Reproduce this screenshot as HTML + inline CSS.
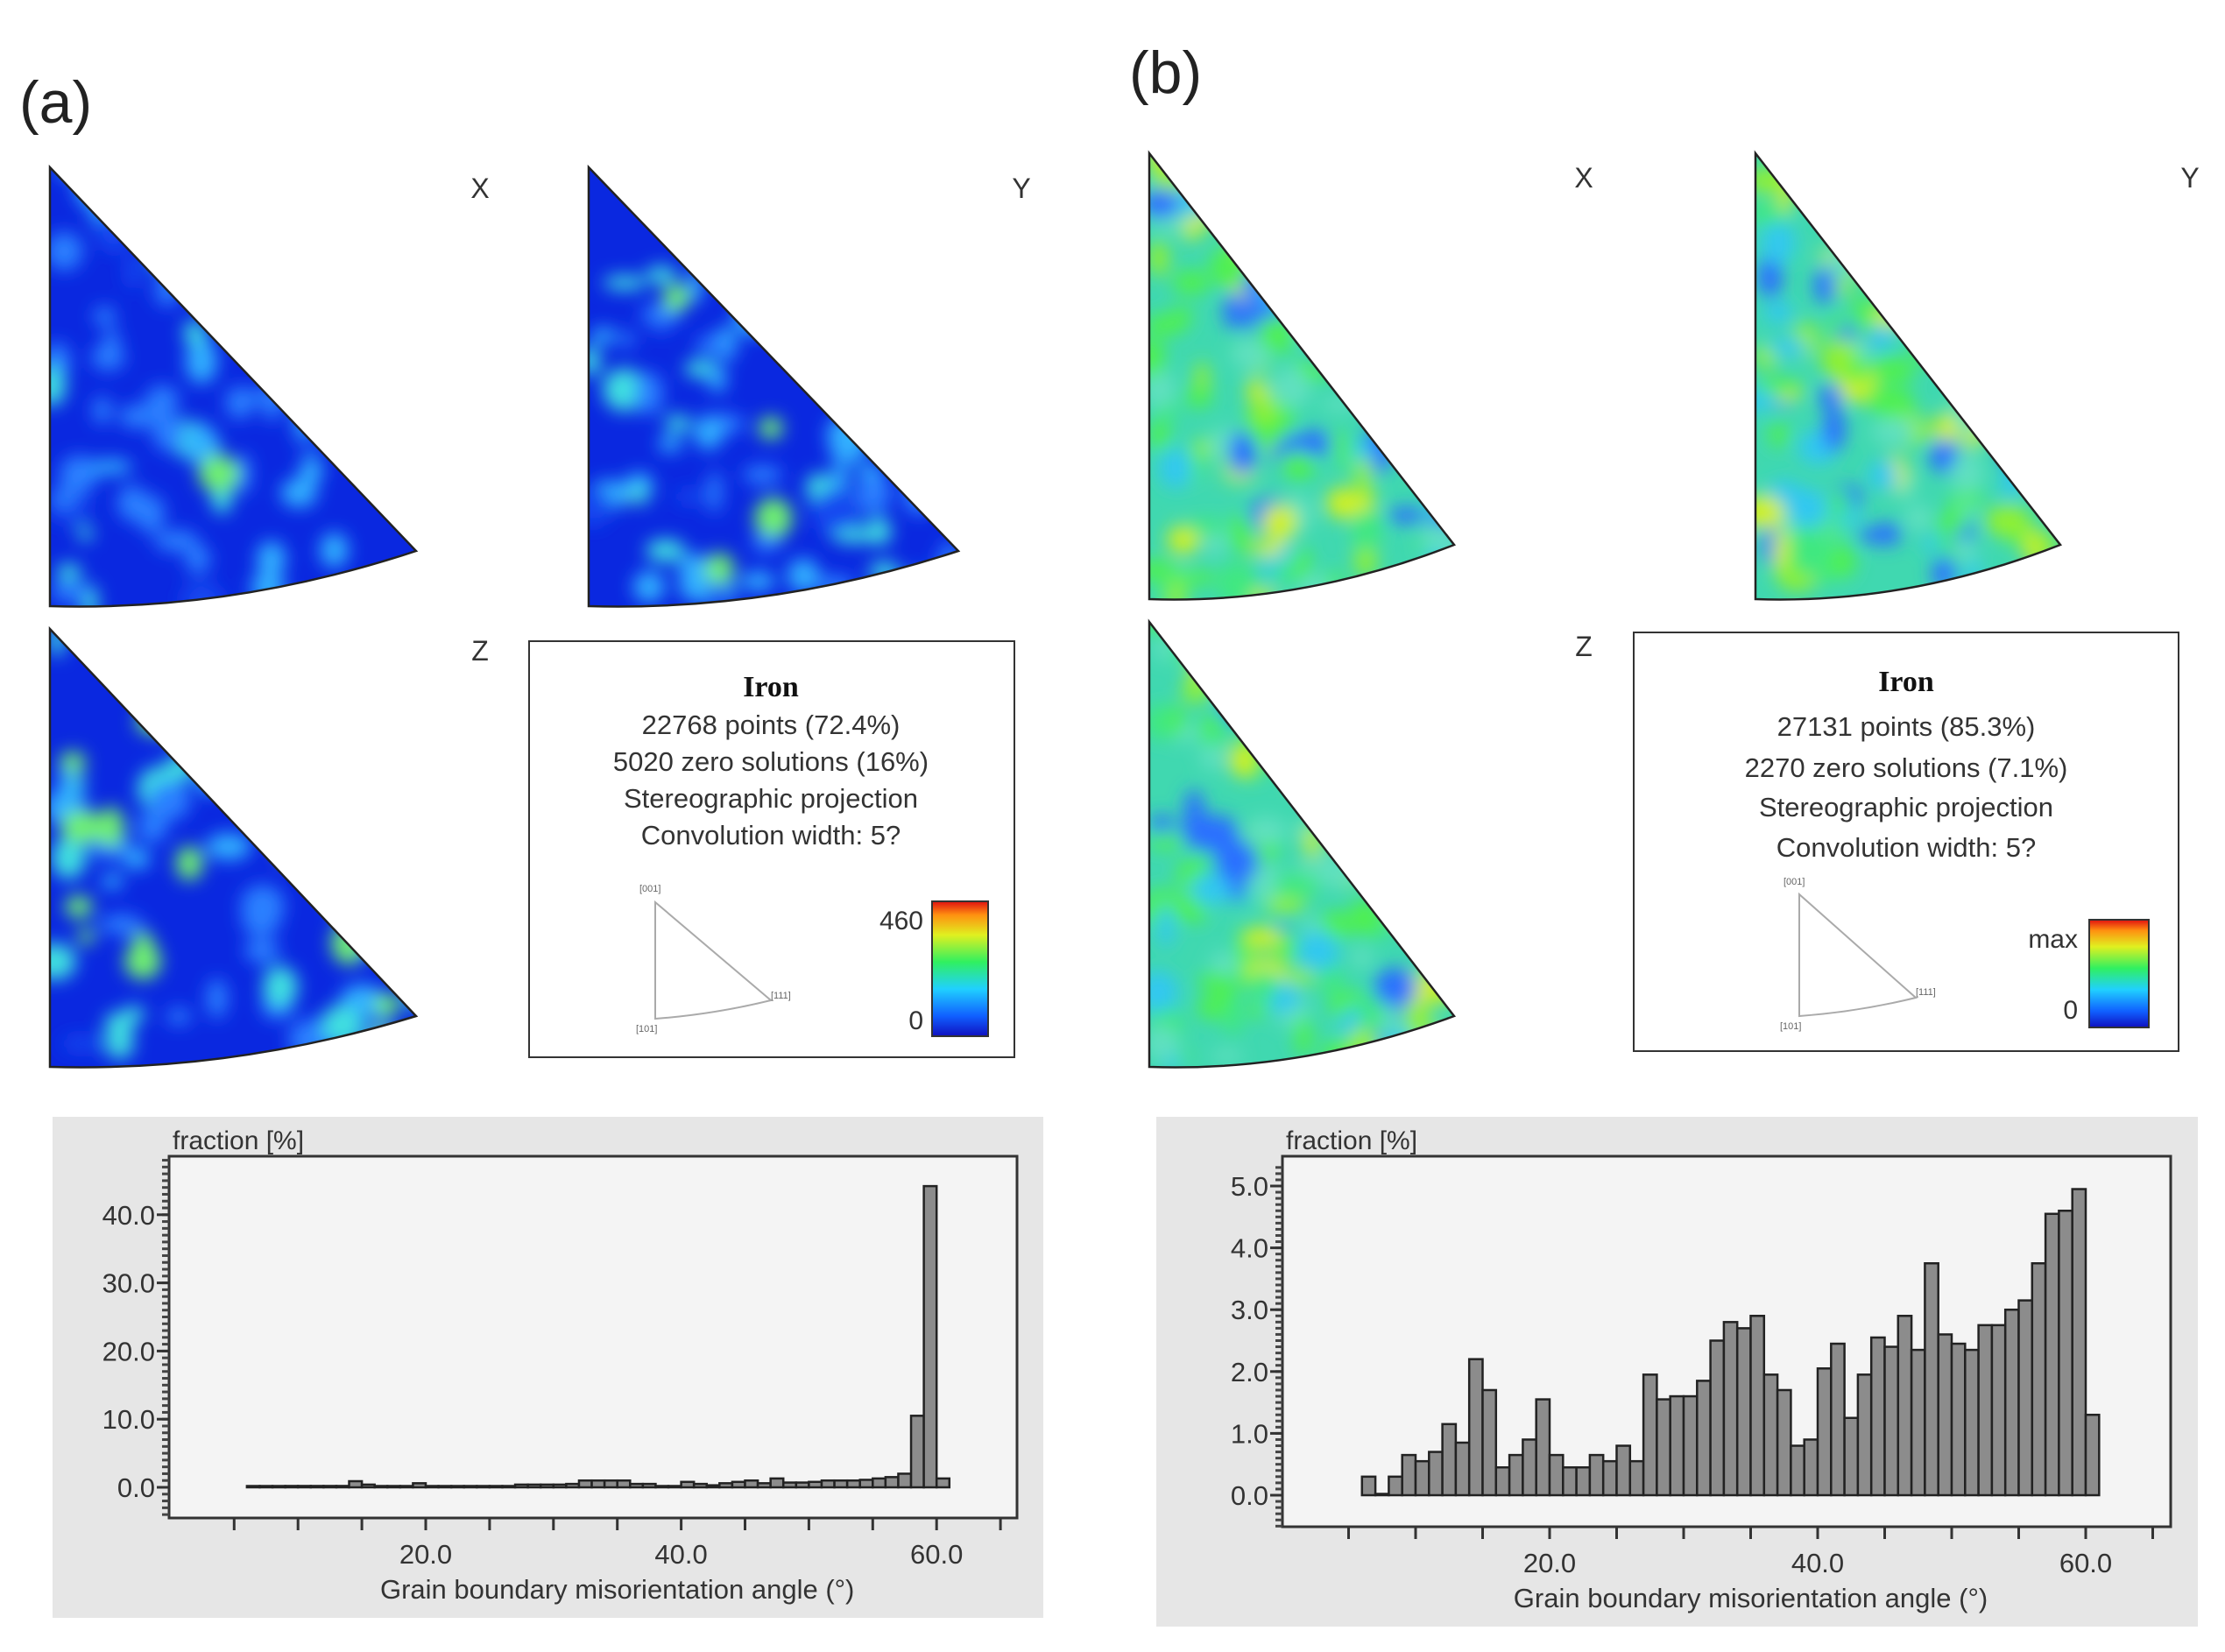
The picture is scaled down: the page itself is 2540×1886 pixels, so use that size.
<!DOCTYPE html>
<html><head><meta charset="utf-8"><style>
html,body{margin:0;padding:0;background:#fff;}
svg{display:block;font-family:"Liberation Sans","DejaVu Sans",sans-serif;}
</style></head><body>
<svg id="root" width="2540" height="1886" viewBox="0 0 2540 1886" xmlns="http://www.w3.org/2000/svg">
<defs>
<filter id="blur" x="-20%" y="-20%" width="140%" height="140%"><feGaussianBlur stdDeviation="10"/></filter>
<linearGradient id="cbar" x1="0" y1="1" x2="0" y2="0">
<stop offset="0" stop-color="#1010c0"/><stop offset="0.15" stop-color="#1060ff"/><stop offset="0.35" stop-color="#20d0ff"/><stop offset="0.55" stop-color="#30f060"/><stop offset="0.75" stop-color="#e0f020"/><stop offset="0.9" stop-color="#ff9010"/><stop offset="1" stop-color="#e01010"/>
</linearGradient>
</defs>
<text x="22" y="140" font-size="68" fill="#222">(a)</text>
<text x="1289" y="106" font-size="68" fill="#222">(b)</text>
<g id="maps"></g>
<g>
<rect x="604" y="732" width="554" height="475" fill="#fff" stroke="#333" stroke-width="2"/>
<text x="880" y="795" font-size="34" font-weight="bold" text-anchor="middle" font-family="Liberation Serif,serif" fill="#111">Iron</text>
<text x="880" y="838" font-size="31" text-anchor="middle" fill="#333">22768 points  (72.4%)</text>
<text x="880" y="880" font-size="31" text-anchor="middle" fill="#333">5020 zero solutions (16%)</text>
<text x="880" y="922" font-size="31" text-anchor="middle" fill="#333">Stereographic projection</text>
<text x="880" y="964" font-size="31" text-anchor="middle" fill="#333">Convolution width: 5?</text>
<path d="M748 1030 L748 1163 Q815 1158 880 1142 Z" fill="none" stroke="#aaa" stroke-width="2"/>
<text x="730" y="1018" font-size="11" fill="#666">[001]</text><text x="726" y="1178" font-size="11" fill="#666">[101]</text><text x="880" y="1140" font-size="11" fill="#666">[111]</text>
<rect x="1064" y="1029" width="64" height="154" fill="url(#cbar)" stroke="#333" stroke-width="2"/>
<text x="1054" y="1061" font-size="30" text-anchor="end" fill="#333">460</text>
<text x="1054" y="1175" font-size="30" text-anchor="end" fill="#333">0</text>
</g>
<g>
<rect x="1865" y="722" width="622" height="478" fill="#fff" stroke="#333" stroke-width="2"/>
<text x="2176" y="789" font-size="34" font-weight="bold" text-anchor="middle" font-family="Liberation Serif,serif" fill="#111">Iron</text>
<text x="2176" y="840" font-size="31" text-anchor="middle" fill="#333">27131 points  (85.3%)</text>
<text x="2176" y="887" font-size="31" text-anchor="middle" fill="#333">2270 zero solutions (7.1%)</text>
<text x="2176" y="932" font-size="31" text-anchor="middle" fill="#333">Stereographic projection</text>
<text x="2176" y="978" font-size="31" text-anchor="middle" fill="#333">Convolution width: 5?</text>
<path d="M2054 1021 L2054 1160 Q2122 1155 2187 1139 Z" fill="none" stroke="#aaa" stroke-width="2"/>
<text x="2036" y="1010" font-size="11" fill="#666">[001]</text><text x="2032" y="1175" font-size="11" fill="#666">[101]</text><text x="2187" y="1136" font-size="11" fill="#666">[111]</text>
<rect x="2385" y="1050" width="68" height="123" fill="url(#cbar)" stroke="#333" stroke-width="2"/>
<text x="2372" y="1082" font-size="30" text-anchor="end" fill="#333">max</text>
<text x="2372" y="1163" font-size="30" text-anchor="end" fill="#333">0</text>
</g>
<g id="histA"></g>
<g id="histB"></g>
</svg>
<script>
// Histogram data (a)
const anglesA = [6,7,8,9,10,11,12,13,14,15,16,17,18,19,20,21,22,23,24,25,26,27,28,29,30,31,32,33,34,35,36,37,38,39,40,41,42,43,44,45,46,47,48,49,50,51,52,53,54,55,56,57,58,59,60];
const fractionA = [0.1,0.1,0.1,0.2,0.2,0.2,0.2,0.2,0.9,0.4,0.1,0.1,0.1,0.6,0.1,0,0,0.1,0.1,0.1,0.1,0.4,0.4,0.4,0.4,0.5,1.0,1.0,1.0,1.0,0.5,0.5,0.1,0.1,0.8,0.5,0.3,0.6,0.8,1.0,0.6,1.3,0.7,0.7,0.8,1.0,1.0,1.0,1.1,1.3,1.5,2.0,10.5,44.2,1.3];
const yTicksA = [0,10,20,30,40];
const yLabelsA = ["0.0","10.0","20.0","30.0","40.0"];
// Histogram data (b)
const anglesB = [6,7,8,9,10,11,12,13,14,15,16,17,18,19,20,21,22,23,24,25,26,27,28,29,30,31,32,33,34,35,36,37,38,39,40,41,42,43,44,45,46,47,48,49,50,51,52,53,54,55,56,57,58,59,60];
const fractionB = [0.3,0,0.3,0.65,0.55,0.7,1.15,0.85,2.2,1.7,0.45,0.65,0.9,1.55,0.65,0.45,0.45,0.65,0.55,0.8,0.55,1.95,1.55,1.6,1.6,1.85,2.5,2.8,2.7,2.9,1.95,1.7,0.8,0.9,2.05,2.45,1.25,1.95,2.55,2.4,2.9,2.35,3.75,2.6,2.45,2.35,2.75,2.75,3.0,3.15,3.75,4.55,4.6,4.95,1.3];
const yTicksB = [0,1,2,3,4,5];
const yLabelsB = ["0.0","1.0","2.0","3.0","4.0","5.0"];
const xTicks = [20,40,60];
const xLabels = ["20.0","40.0","60.0"];

const NS="http://www.w3.org/2000/svg";
function mk(tag,attrs,parent){const e=document.createElementNS(NS,tag);for(const k in attrs)e.setAttribute(k,attrs[k]);if(parent)parent.appendChild(e);return e;}

function histogram(g,cfg,angles,vals,yT,yL){
  const X=v=>cfg.x20+(v-20)*cfg.px;
  const Y=v=>cfg.y0-v*cfg.py;
  const box=mk('rect',{x:cfg.bx,y:cfg.by,width:cfg.bw,height:cfg.bh,fill:'#e6e6e6'},g);
  
  
  const fr=mk('rect',{x:cfg.fx,y:cfg.fy,width:cfg.fw,height:cfg.fh,fill:'#f4f4f4',stroke:'#333','stroke-width':3},g);
  
  
  const yt=mk('text',{x:cfg.fx+4,y:cfg.fy-8,'font-size':30,fill:'#333'},g);yt.textContent='fraction [%]';
  
  
  const step=cfg.minor;
  for(let v=cfg.ymin;v<=cfg.ymax+1e-9;v+=step){
    mk('line',{x1:cfg.fx-8,x2:cfg.fx,y1:Y(v),y2:Y(v),stroke:'#444','stroke-width':3},g);
  }
  yT.forEach((v,i)=>{
    mk('line',{x1:cfg.fx-14,x2:cfg.fx,y1:Y(v),y2:Y(v),stroke:'#333','stroke-width':3},g);
    const t=mk('text',{x:cfg.fx-16,y:Y(v)+11,'font-size':31,'text-anchor':'end',fill:'#333'},g);t.textContent=yL[i];
    
    
  });
  for(let v=5;v<=65;v+=5){
    mk('line',{x1:X(v),x2:X(v),y1:cfg.fy+cfg.fh,y2:cfg.fy+cfg.fh+14,stroke:'#333','stroke-width':3},g);
  }
  xTicks.forEach((v,i)=>{
    const t=mk('text',{x:X(v),y:cfg.fy+cfg.fh+52,'font-size':31,'text-anchor':'middle',fill:'#333'},g);t.textContent=xLabels[i];
    
    
  });
  const xt=mk('text',{x:(X(5)+X(65))/2,y:cfg.fy+cfg.fh+92,'font-size':31,'text-anchor':'middle',fill:'#333'},g);xt.textContent='Grain boundary misorientation angle (°)';
  
  
  angles.forEach((a,i)=>{
    const h=Math.max(Y(0)-Y(vals[i]),1.5);
    const r=mk('rect',{x:X(a),y:Y(0)-h,width:X(a+1)-X(a),height:h,fill:'#8c8c8c',stroke:'#222','stroke-width':2.5},g);
    
    
  });
}
histogram(document.getElementById('histA'),{bx:60,by:1275,bw:1131,bh:572,fx:193,fy:1320,fw:968,fh:413,x20:486,px:14.58,y0:1698,py:7.78,ymin:-4,ymax:48,minor:1},anglesA,fractionA,yTicksA,yLabelsA);
histogram(document.getElementById('histB'),{bx:1320,by:1275,bw:1189,bh:582,fx:1464,fy:1320,fw:1014,fh:423,x20:1769,px:15.3,y0:1707,py:70.6,ymin:-0.5,ymax:5.3,minor:0.1},anglesB,fractionB,yTicksB,yLabelsB);

// Inverse pole figure maps (decorative textures)
let seed=12345;function rnd(){seed=(seed*16807)%2147483647;return seed/2147483647;}
const maps=document.getElementById('maps');
function ipf(id,tx,ty,bly,rx,ry,base,cols,n,label,lx,ly){
  const g=mk('g',{},maps);
  
  
  const d=`M${tx} ${ty} L${tx} ${bly} Q${(tx+rx)/2} ${bly+6} ${rx} ${ry} Z`;
  const cp=mk('clipPath',{id:'cp'+id},g);mk('path',{d:d},cp);
  const cg=mk('g',{'clip-path':`url(#cp${id})`},g);
  mk('path',{d:d,fill:base},cg);
  const bg=mk('g',{filter:'url(#blur)'},cg);
  const w=rx-tx,h=bly-ty;
  for(let i=0;i<n;i++){
    const u=rnd(),v=rnd();
    const x=tx+u*w, y=ty+v*h;
    const c=cols[Math.floor(rnd()*cols.length)];
    mk('ellipse',{cx:x,cy:y,rx:8+rnd()*18,ry:8+rnd()*18,fill:c},bg);
  }
  mk('path',{d:d,fill:'none',stroke:'#222','stroke-width':2.5},g);
  const t=mk('text',{x:lx,y:ly,'font-size':32,fill:'#333','text-anchor':'middle'},g);t.textContent=label;
  
  
}
const colsA=['#2a80ff','#30b0ff','#40e0e0','#70f070','#1848f0','#2a80ff','#30b0ff','#40e0e0'];
const colsB=['#50f050','#90f030','#30c8f0','#2a70ff','#d0f020','#40e880','#60e0c0','#50f050'];
ipf('a-x',57,191,692,475,629,'#0a28e0',colsA,90,'X',548,226);
ipf('a-y',672,191,692,1094,629,'#0a28e0',colsA,90,'Y',1166,226);
ipf('a-z',57,718,1218,475,1160,'#0a28e0',colsA,90,'Z',548,754);
ipf('b-x',1312,175,684,1660,622,'#40d8b0',colsB,150,'X',1808,214);
ipf('b-y',2004,175,684,2352,622,'#40d8b0',colsB,150,'Y',2500,214);
ipf('b-z',1312,710,1218,1660,1160,'#40d8b0',colsB,150,'Z',1808,749);
</script>
</body></html>
